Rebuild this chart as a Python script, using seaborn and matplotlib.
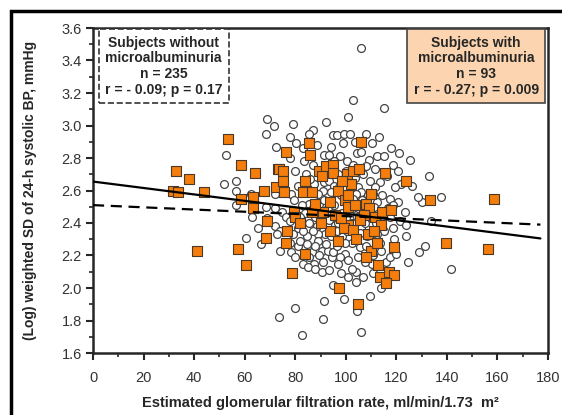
import matplotlib
import matplotlib.pyplot as plt
import seaborn as sns
import pandas as pd
from matplotlib.patches import Rectangle

# subjects without microalbuminuria (open circles)
circle_egfr = [106.0, 102.7, 115.3, 101.0, 69.0, 71.7, 68.6, 79.1, 92.1, 87.1,
               85.5, 95.0, 96.6, 99.3, 101.8, 108.0, 99.0, 80.5, 72.3,
               52.5, 77.8, 91.5, 93.2, 97.8, 104.4, 106.2, 109.3, 112.4, 115.3, 125.6,
               52.0, 56.7, 56.6, 74.0, 84.4, 91.0, 97.0, 106.9, 113.5, 116.3,
               133.0, 99.0, 105.0, 87.5, 91.5, 126.0, 91.0, 101.6, 106.2, 110.8,
               122.0, 72.1, 78.5, 104.0, 108.9, 98.3,
               56.4, 68.6, 72.0, 74.6, 85.5, 89.4, 91.5, 117.4, 120.7, 130.3,
               137.6, 128.6, 118.7, 116.7, 115.4, 123.3, 83.8, 98.4,
               76.2, 87.8, 91.8, 104.3, 110.2, 121.3, 124.0, 133.8, 68.7, 65.4,
               72.0, 73.9, 72.6, 81.2, 84.5, 88.5, 91.8, 95.7, 103.6, 106.2,
               110.8, 98.4, 115.3, 124.0, 89.1, 108.2, 60.4,
               89.1, 102.3, 105.6, 81.2, 86.5, 90.4, 94.4, 99.6, 73.9, 78.5,
               81.9, 77.9, 87.8, 93.0, 95.0, 97.7, 104.8, 99.6, 113.5, 110.9,
               110.2, 116.1, 117.4, 120.0, 124.6, 128.9, 131.2, 82.9, 87.5, 91.1, 96.8,
               141.5, 85.2, 87.8, 90.4, 100.7, 103.9, 102.6, 104.0, 110.8, 114.1,
               109.6, 99.2, 104.6, 91.3, 80.1, 73.5, 90.8, 82.7, 106.2,
               78.0, 83.0, 88.5, 94.0, 103.5, 110.5, 113.0, 118.0, 121.0, 83.5,
               87.0, 95.5, 100.5, 103.0, 108.0, 111.5, 118.5, 80.0, 86.0, 93.5,
               95.5, 100.0, 103.5, 109.5, 111.5, 119.5, 81.0, 85.0, 89.0, 94.0,
               97.5, 100.5, 103.0, 106.5, 112.5, 114.5, 79.5, 82.5, 87.0, 93.0,
               95.5, 102.0, 105.0, 108.5, 111.0, 113.0, 117.5, 78.0, 82.0, 85.5,
               93.5, 97.0, 100.0, 102.5, 107.5, 112.0, 118.5, 79.0, 83.0, 87.0,
               94.0, 96.5, 100.5, 105.5, 112.5, 119.0, 84.5, 92.0, 96.5, 108.0,
               114.0, 80.0, 85.5, 89.5, 101.0, 107.5, 93.5, 98.0, 107.0, 95.0,
               63.0, 66.5, 62.5, 120.5]
circle_sd = [3.48, 3.16, 3.11, 3.05, 3.04, 3.00, 2.95, 3.01, 3.02, 2.97,
             2.95, 2.94, 2.94, 2.95, 2.95, 2.95, 2.89, 2.89, 2.87,
             2.82, 2.80, 2.82, 2.82, 2.81, 2.83, 2.84, 2.79, 2.81, 2.81, 2.79,
             2.64, 2.66, 2.60, 2.74, 2.70, 2.71, 2.70, 2.70, 2.65, 2.69,
             2.69, 2.65, 2.62, 2.64, 2.65, 2.63, 2.60, 2.60, 2.59, 2.58,
             2.64, 2.58, 2.58, 2.58, 2.57, 2.57,
             2.51, 2.50, 2.49, 2.47, 2.52, 2.52, 2.54, 2.55, 2.53, 2.53,
             2.56, 2.56, 2.51, 2.49, 2.47, 2.47, 2.46, 2.46,
             2.44, 2.44, 2.43, 2.44, 2.43, 2.41, 2.39, 2.41, 2.43, 2.37,
             2.38, 2.35, 2.33, 2.37, 2.32, 2.38, 2.33, 2.39, 2.32, 2.37,
             2.36, 2.32, 2.35, 2.32, 2.33, 2.32, 2.31,
             2.29, 2.28, 2.25, 2.26, 2.22, 2.23, 2.19, 2.21, 2.23, 2.22,
             2.29, 2.28, 2.26, 2.23, 2.22, 2.19, 2.19, 2.28, 2.28, 2.20,
             2.15, 2.16, 2.19, 2.21, 2.16, 2.22, 2.26, 2.15, 2.15, 2.16, 2.15,
             2.12, 2.13, 2.12, 2.10, 2.07, 2.10, 2.12, 2.04, 2.09, 2.00,
             1.95, 1.93, 1.86, 1.92, 1.88, 1.82, 1.81, 1.71, 1.73,
             2.93, 2.86, 2.88, 2.87, 2.90, 2.89, 2.93, 2.86, 2.83, 2.78,
             2.76, 2.78, 2.78, 2.76, 2.75, 2.73, 2.76, 2.72, 2.67, 2.66,
             2.63, 2.72, 2.68, 2.66, 2.62, 2.62, 2.63, 2.61, 2.58, 2.59,
             2.62, 2.55, 2.55, 2.54, 2.53, 2.57, 2.54, 2.51, 2.49, 2.49,
             2.51, 2.48, 2.49, 2.47, 2.50, 2.45, 2.44, 2.41, 2.44, 2.40,
             2.42, 2.40, 2.43, 2.40, 2.40, 2.40, 2.37, 2.33, 2.35, 2.35,
             2.32, 2.35, 2.35, 2.34, 2.33, 2.30, 2.27, 2.27, 2.26, 2.26,
             2.23, 2.19, 2.19, 2.20, 2.17, 2.16, 2.11, 2.09, 2.07, 2.02,
             2.44, 2.27, 2.58, 2.72]

# subjects with microalbuminuria (orange squares)
square_egfr = [32.7, 31.5, 33.5, 38.0, 44.0, 41.3, 53.5, 58.5, 64.0, 58.5,
               63.2, 67.8, 63.2, 68.7, 68.4, 57.3, 60.4, 73.1, 72.5,
               76.5, 85.3, 85.8, 106.2, 73.5, 75.2, 75.2, 89.4, 92.3, 95.0,
               90.6, 94.8, 100.6, 103.0, 105.1, 102.2, 115.7, 123.8, 75.5, 83.1,
               86.5, 96.9, 93.7, 99.6, 100.7, 103.5, 107.9, 109.2, 79.6, 79.9,
               81.8, 86.5, 91.0, 95.7, 107.3, 111.5, 114.2, 113.9, 93.7, 100.7,
               99.4, 102.9, 76.8, 108.6, 96.9, 76.2, 83.8, 110.0, 112.3, 119.2,
               78.8, 97.3, 104.8, 112.7, 113.5, 117.1, 119.2, 116.0, 133.5, 158.7,
               139.5, 156.2, 110.0, 88.0, 105.5, 98.0, 118.0, 90.0, 104.0, 108.0,
               101.0, 84.0, 98.5, 111.0]
square_sd = [2.72, 2.60, 2.59, 2.67, 2.59, 2.23, 2.92, 2.76, 2.71, 2.55,
             2.56, 2.60, 2.49, 2.41, 2.31, 2.24, 2.14, 2.73, 2.62,
             2.84, 2.89, 2.82, 2.90, 2.73, 2.72, 2.66, 2.72, 2.75, 2.76,
             2.69, 2.71, 2.70, 2.72, 2.73, 2.64, 2.71, 2.66, 2.59, 2.59,
             2.59, 2.60, 2.53, 2.54, 2.50, 2.51, 2.52, 2.49, 2.47, 2.44,
             2.40, 2.47, 2.47, 2.45, 2.45, 2.44, 2.47, 2.39, 2.35, 2.39,
             2.37, 2.36, 2.35, 2.33, 2.29, 2.28, 2.21, 2.23, 2.28, 2.25,
             2.09, 2.00, 1.90, 2.14, 2.07, 2.10, 2.08, 2.03, 2.54, 2.55,
             2.28, 2.24, 2.58, 2.52, 2.42, 2.43, 2.48, 2.40, 2.30, 2.19,
             2.57, 2.66, 2.66, 2.35]

# regression lines (end points)
fit_egfr = [0, 177]
fit_without = [2.51, 2.39]
fit_with = [2.655, 2.305]

sns.set_style("ticks")
plt.rcParams['font.family'] = ['Liberation Sans', 'DejaVu Sans']

fig = plt.figure(figsize=(5.62, 4.15), dpi=100)
ax = fig.add_axes([93 / 562, 1 - 353 / 415, 455 / 562, 325 / 415])

circles = pd.DataFrame({'egfr': circle_egfr, 'sd': circle_sd})
squares = pd.DataFrame({'egfr': square_egfr, 'sd': square_sd})

sns.scatterplot(data=circles, x='egfr', y='sd', ax=ax, marker='o', s=32,
                facecolor='white', edgecolor='#444444', linewidth=0.9, zorder=2)
sns.scatterplot(data=squares, x='egfr', y='sd', ax=ax, marker='s', s=42,
                color='#f47d0c', edgecolor='#4a3828', linewidth=0.8, zorder=3)

lines = pd.DataFrame({'egfr': fit_egfr, 'without': fit_without, 'with': fit_with})
sns.lineplot(data=lines, x='egfr', y='without', ax=ax, color='black',
             linewidth=1.6, linestyle=(0, (5, 3)), zorder=4)
sns.lineplot(data=lines, x='egfr', y='with', ax=ax, color='black',
             linewidth=1.6, zorder=4)

ax.set_xlim(0, 180)
ax.set_ylim(1.6, 3.6)
ax.set_xticks(range(0, 181, 20))
ax.set_xticks(range(10, 180, 20), minor=True)
ax.set_yticks([1.6 + 0.2 * i for i in range(11)])
ax.set_yticks([1.7 + 0.2 * i for i in range(10)], minor=True)
ax.set_yticklabels(['%.1f' % (1.6 + 0.2 * i) for i in range(11)])
ax.tick_params(which='major', direction='out', length=5, width=1.5,
               labelsize=10.5, labelcolor='#333333')
ax.tick_params(axis='x', which='major', pad=8)
ax.tick_params(axis='y', which='major', pad=3)
ax.tick_params(which='minor', direction='out', length=3, width=1.2)
for sp in ax.spines.values():
    sp.set_linewidth(1.8)
    sp.set_visible(True)

ax.set_xlabel('Estimated glomerular filtration rate, ml/min/1.73  m\u00b2',
              fontsize=10.5, fontweight='bold', labelpad=8)
ax.set_ylabel('(Log) weighted SD of 24-h systolic BP, mmHg',
              fontsize=10, fontweight='bold', labelpad=18)

ax.text(0.155, 0.883, 'Subjects without\nmicroalbuminuria\nn = 235\nr = - 0.09; p = 0.17',
        transform=ax.transAxes, ha='center', va='center', fontsize=10,
        fontweight='bold', linespacing=1.15,
        bbox=dict(boxstyle='square,pad=0.45', facecolor='white',
                  edgecolor='#333333', linestyle='--', linewidth=1.2))
ax.text(0.842, 0.883, 'Subjects with\nmicroalbuminuria\nn = 93\nr = - 0.27; p = 0.009',
        transform=ax.transAxes, ha='center', va='center', fontsize=10,
        fontweight='bold', linespacing=1.15,
        bbox=dict(boxstyle='square,pad=0.45', facecolor='#fcd5b0',
                  edgecolor='#444444', linewidth=1.2))

# outer frame of the figure panel
fig.patches.append(Rectangle((11 / 562, -0.05), 1.2, 1.05 - 11 / 415,
                             transform=fig.transFigure, fill=False,
                             edgecolor='black', linewidth=2.5))

fig.savefig('out.png', dpi=100)
